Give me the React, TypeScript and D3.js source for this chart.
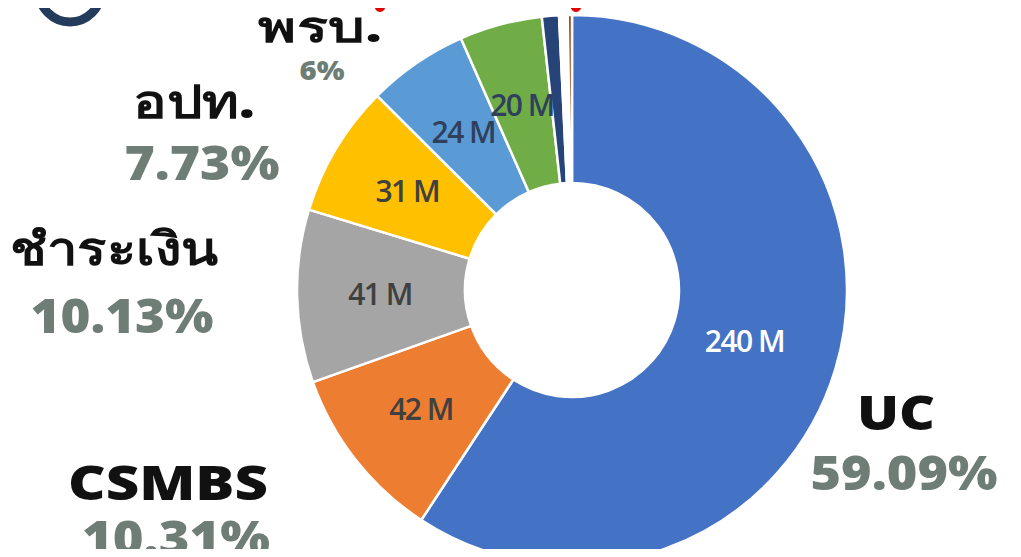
import React, { useEffect, useRef } from 'react';
import * as d3 from 'd3';

// slices clockwise from 12 o'clock (percent of total)
const names = ['UC', 'CSMBS', 'ชำระเงิน', 'อปท.', 'พรบ.', 'other1', 'other2', 'gap', 'other3'];
const shares = [59.09, 10.31, 10.13, 7.73, 5.9, 4.85, 1.0, 0.5, 0.25];
const valueLabels = ['240 M', '42 M', '41 M', '31 M', '24 M', '20 M', '', '', ''];
const pctLabels = ['59.09%', '10.31%', '10.13%', '7.73%', '6%', '', '', '', ''];
const colors = ['#4472c4', '#ed7d31', '#a5a5a5', '#ffc000', '#5b9bd5', '#70ad47', '#264478', '#ffffff', '#9e480e'];
const valueColors = ['#ffffff', '#404040', '#404040', '#404040', '#2f3f5c', '#2f3f5c', '', '', ''];

// outer label layout: [x, nameBaseline, nameWidth, pctBaseline, pctWidth, nameSize, pctSize]
const outerLayout = [
  [896, 430, 78, 490, 187, 48, 48],
  [168, 500, 200, 555, 188, 48, 48],
  [114, 265, 208, 333, 183, 46, 48],
  [194, 118, 122, 180, 155, 46, 48],
  [320, 42, 124, 80, 45, 42, 27],
];

const W = 1021;
const H = 557;
const cx = 572;
const cy = 290;
const rOuter = 275;
const rInner = 107;

class DonutChart extends React.Component {
  myRef: React.RefObject<SVGSVGElement>;
  constructor(props: any) {
    super(props);
    this.myRef = React.createRef();
  }

  componentDidMount() {
    this.draw();
  }

  draw() {
    const svg = d3.select(this.myRef.current);
    svg.selectAll('*').remove();

    // cut-off header bits
    svg.append('circle')
      .attr('cx', 70).attr('cy', -9).attr('r', 31)
      .attr('fill', 'none').attr('stroke', '#253b5c').attr('stroke-width', 9);
    svg.append('ellipse').attr('cx', 380).attr('cy', 4).attr('rx', 6).attr('ry', 8).attr('fill', '#e00000');
    svg.append('ellipse').attr('cx', 576).attr('cy', 4).attr('rx', 6).attr('ry', 8).attr('fill', '#e00000');

    const pie = d3.pie<number>().sort(null).value((d) => d);
    const arcs = pie(shares);
    const arc = d3.arc<d3.PieArcDatum<number>>().innerRadius(rInner).outerRadius(rOuter);

    const g = svg.append('g').attr('transform', `translate(${cx},${cy})`);
    g.selectAll('path')
      .data(arcs)
      .enter()
      .append('path')
      .attr('d', arc)
      .attr('fill', (d, i) => colors[i])
      .attr('stroke', '#ffffff')
      .attr('stroke-width', 2.5);

    const labelArc = d3.arc<d3.PieArcDatum<number>>().innerRadius(192).outerRadius(192);
    const ucArc = d3.arc<d3.PieArcDatum<number>>().innerRadius(180).outerRadius(180);
    g.selectAll('text.val')
      .data(arcs)
      .enter()
      .append('text')
      .attr('class', 'val')
      .attr('transform', (d, i) => {
        const c = i === 0 ? ucArc.centroid(d) : labelArc.centroid(d);
        return `translate(${c[0]},${c[1] + 11})`;
      })
      .attr('text-anchor', 'middle')
      .attr('font-family', 'Open Sans, Noto Sans, sans-serif')
      .attr('font-weight', 600)
      .attr('font-size', 30)
      .attr('letter-spacing', -1.5)
      .attr('fill', (d, i) => valueColors[i])
      .text((d, i) => valueLabels[i]);

    outerLayout.forEach((l, i) => {
      svg.append('text')
        .attr('x', l[0]).attr('y', l[1])
        .attr('text-anchor', 'middle')
        .attr('font-family', 'Open Sans, Noto Sans, sans-serif')
        .attr('font-weight', 800)
        .attr('font-size', l[5])
        .attr('fill', '#111111')
        .attr('textLength', l[2])
        .attr('lengthAdjust', 'spacingAndGlyphs')
        .text(names[i]);
      svg.append('text')
        .attr('x', l[0] + (i === 4 ? 2 : 8)).attr('y', l[3])
        .attr('text-anchor', 'middle')
        .attr('font-family', 'Open Sans, Noto Sans, sans-serif')
        .attr('font-weight', 800)
        .attr('font-size', l[6])
        .attr('fill', '#6e7d75')
        .attr('textLength', l[4])
        .attr('lengthAdjust', 'spacingAndGlyphs')
        .text(pctLabels[i]);
    });
  }

  render() {
    return (
      <svg ref={this.myRef} width={W} height={H} style={{ display: 'block', background: '#ffffff' }}></svg>
    );
  }
}

export default function App() {
  return (
    <div style={{ margin: -8 }}>
      <DonutChart />
    </div>
  );
}
